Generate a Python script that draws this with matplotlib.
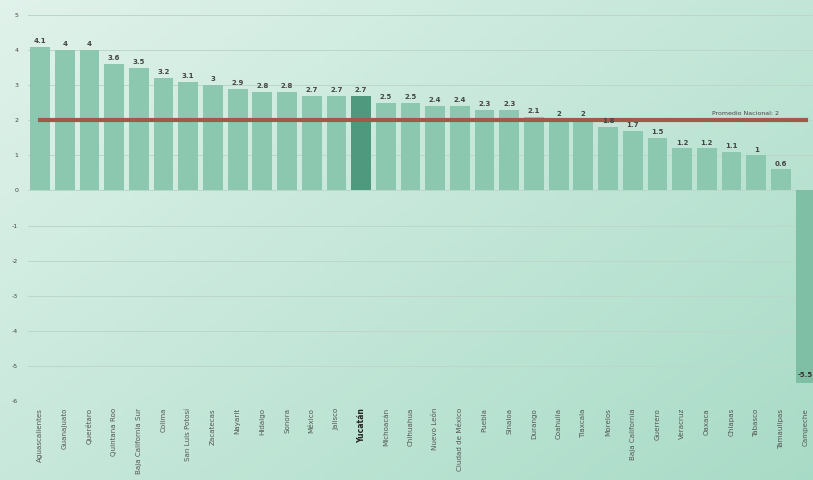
import matplotlib
matplotlib.use("Agg")
import matplotlib.pyplot as plt
import numpy as np

states = ["Aguascalientes", "Guanajuato", "Querétaro", "Quintana Roo", "Baja California Sur",
          "Colima", "San Luis Potosí", "Zacatecas", "Nayarit", "Hidalgo", "Sonora", "México",
          "Jalisco", "Yucatán", "Michoacán", "Chihuahua", "Nuevo León", "Ciudad de México",
          "Puebla", "Sinaloa", "Durango", "Coahuila", "Tlaxcala", "Morelos", "Baja California",
          "Guerrero", "Veracruz", "Oaxaca", "Chiapas", "Tabasco", "Tamaulipas", "Campeche"]
values = [4.1, 4, 4, 3.6, 3.5, 3.2, 3.1, 3, 2.9, 2.8, 2.8, 2.7, 2.7, 2.7, 2.5, 2.5, 2.4, 2.4,
          2.3, 2.3, 2.1, 2, 2, 1.8, 1.7, 1.5, 1.2, 1.2, 1.1, 1, 0.6, -5.5]
national_avg = 2
highlight = "Yucatán"
yticks = [5, 4, 3, 2, 1, 0, -1, -2, -3, -4, -5, -6]

fig = plt.figure(figsize=(8.13, 4.8), dpi=100)

# background gradient
bg = fig.add_axes([0, 0, 1, 1], zorder=-10)
gx = np.linspace(0, 1, 200)
gy = np.linspace(0, 1, 120)
GX, GY = np.meshgrid(gx, gy)
t = np.clip(0.55 * GX + 0.45 * GY, 0, 1)
c0 = np.array([0.88, 0.95, 0.92])
c1 = np.array([0.66, 0.86, 0.78])
img = c0[None, None, :] * (1 - t[..., None]) + c1[None, None, :] * t[..., None]
bg.imshow(img, aspect="auto", extent=[0, 1, 0, 1], origin="upper")
bg.axis("off")

ax = fig.add_axes([28 / 813, 1 - 401 / 480, 1 - 28 / 813, (401 - 15) / 480])
ax.patch.set_alpha(0)

x = np.arange(len(states))
colors = ["#4f9a7f" if s == highlight else ("#7fbfa6" if v < 0 else "#8cc8b0")
          for s, v in zip(states, values)]
ax.bar(x, values, width=0.8, color=colors, zorder=3)

for xi, v in zip(x, values):
    lbl = f"{v:g}"
    if v >= 0:
        ax.text(xi, v + 0.08, lbl, ha="center", va="bottom", fontsize=5, color="#444444",
                fontweight="bold", zorder=5)
    else:
        ax.text(xi, v + 0.15, lbl, ha="center", va="bottom", fontsize=5, color="#333333",
                fontweight="bold", zorder=5)

ax.plot([x[0], x[-1]], [national_avg, national_avg], color="#a0594a", lw=3, zorder=4)
ax.text(27.2, national_avg + 0.12, f"Promedio Nacional: {national_avg:g}", fontsize=4.5,
        color="#444444", ha="left", va="bottom", zorder=5)

ax.set_xlim(-0.49, 31.3)
ax.set_ylim(-6, 5)
ax.set_yticks(yticks)
ax.set_yticklabels([str(t) for t in yticks], fontsize=4.5, color="#444444")
ax.yaxis.grid(True, color="#bcd6cb", lw=0.7, zorder=0)
ax.set_axisbelow(True)
ax.tick_params(axis="y", length=0, pad=7)
ax.tick_params(axis="x", length=0, pad=5)
ax.set_xticks(x)
ax.set_xticklabels(states, rotation=90, fontsize=5.1, color="#555555", va="top")
for lab in ax.get_xticklabels():
    if lab.get_text() == highlight:
        lab.set_fontweight("bold")
        lab.set_fontsize(5.6)
        lab.set_color("#222222")
for sp in ax.spines.values():
    sp.set_visible(False)

fig.savefig("out.png", dpi=100)
